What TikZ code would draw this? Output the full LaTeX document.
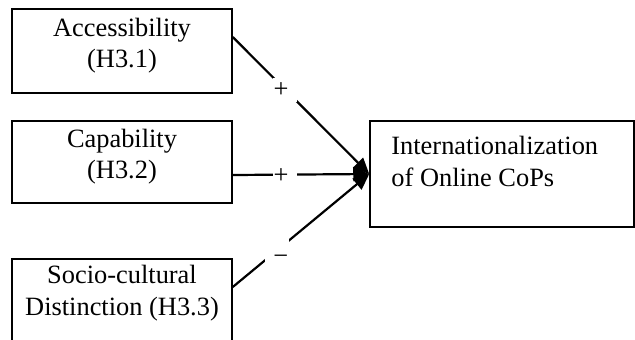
\documentclass[tikz,border=0pt]{standalone}
\usepackage{fontspec}
\setmainfont{Liberation Serif}
\usetikzlibrary{arrows.meta}
\begin{document}
\begin{tikzpicture}[x=0.5pt,y=-0.5pt,
  box/.style={draw,line width=0.75pt,inner sep=0pt,fill=none},
  txt/.style={font=\fontsize{13.2}{15.5}\selectfont,anchor=base,inner sep=0pt},
  conn/.style={line width=1.1pt,-{Triangle[length=8pt,width=7pt]}},
  gapbox/.style={fill=white,inner sep=0pt,minimum size=12pt},
  sign/.style={font=\fontsize{13.2}{15.5}\selectfont,inner sep=0pt}]
\useasboundingbox (0,0) rectangle (635,339);
\clip (0,0) rectangle (635,339);
% boxes
\node[box,minimum width=110pt,minimum height=42pt] (b1) at (122,51) {};
\node[box,minimum width=110pt,minimum height=41pt] (b2) at (122,162) {};
\node[box,minimum width=110pt,minimum height=50pt] (b3) at (122,309) {};
\node[box,minimum width=132pt,minimum height=53pt] (b4) at (502,174) {};
% texts
\node[txt] (t1a) at (122,36) {Accessibility};
\node[txt] (t1b) at (122,67) {(H3.1)};
\node[txt] (t2a) at (122,147) {Capability};
\node[txt] (t2b) at (122,178) {(H3.2)};
\node[txt] (t3a) at (122,283) {Socio-cultural};
\node[txt] (t3b) at (122,315) {Distinction (H3.3)};
\node[txt,anchor=base west] (t4a) at (391,154) {Internationalization};
\node[txt,anchor=base west] (t4b) at (391,186) {of Online CoPs};
% connectors
\draw[conn] ([yshift=7pt]b1.east) -- node[gapbox,pos=0.386] (g1) {} (b4.west);
\draw[conn] ([yshift=-6.5pt]b2.east) -- node[gapbox,pos=0.386] (g2) {} (b4.west);
\draw[conn] ([yshift=11pt]b3.east) -- node[gapbox,pos=0.327] (g3) {} (b4.west);
% signs
\node[sign] (s1) at ([xshift=-2.25pt]g1.center) {+};
\node[sign] (s2) at ([xshift=-2.25pt,yshift=-0.5pt]g2.center) {+};
\node[sign] (s3) at ([xshift=1.75pt,yshift=-5pt]g3.center) {−};
\end{tikzpicture}
\end{document}
